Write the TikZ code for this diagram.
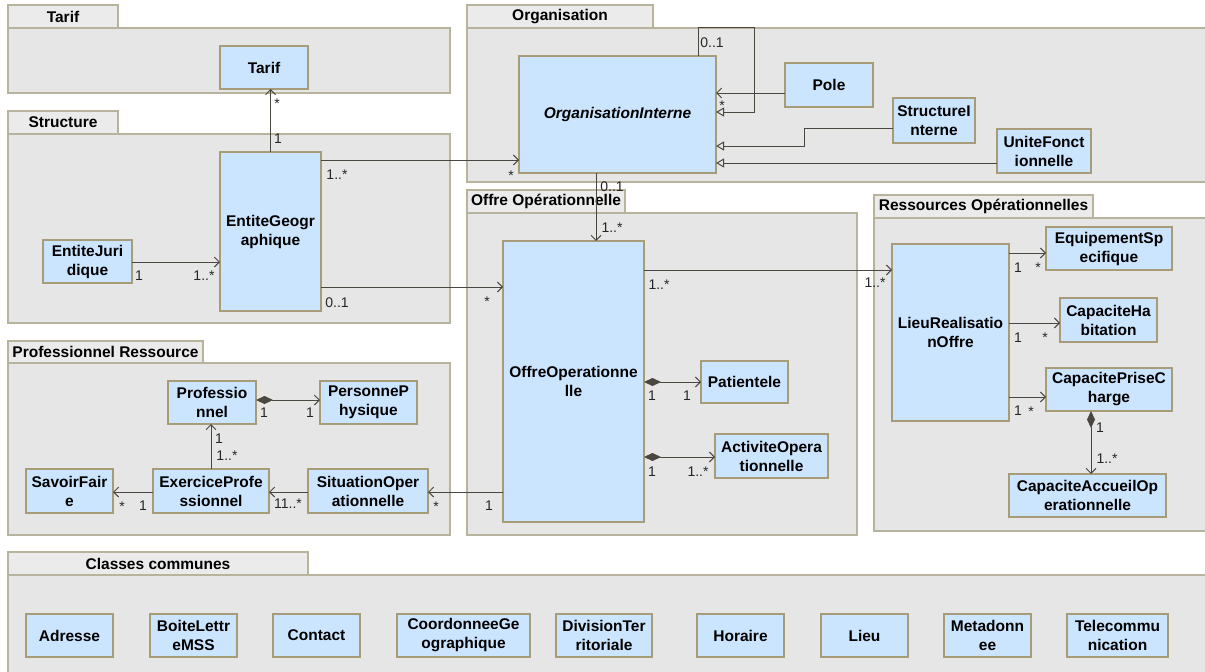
\documentclass[tikz,border=0pt]{standalone}
\usepackage{fontspec}
\setmainfont{Liberation Sans}
\usetikzlibrary{arrows.meta}
\definecolor{pkgfill}{HTML}{E6E6E6}
\definecolor{tabfill}{HTML}{EBEBEB}
\definecolor{pkgline}{HTML}{B8B39D}
\definecolor{clsfill}{HTML}{CCE5FF}
\definecolor{clsline}{HTML}{A89C78}
\definecolor{conn}{HTML}{4A4740}
\newcommand\klass[6]{\node[cls, minimum width={#4-#2}, minimum height={#5-#3}] (#1) at ({(#2+#4)/2},{(#3+#5)/2}) {#6};}
\newcommand\pkgbox[8]{%
  \draw[pkgbody] (#3,#6) rectangle (#7,#8);
  \draw[pkgtab] (#3,#4) rectangle (#5,#6);
  \node[tabtext] (#1) at ({(#3+#5)/2},{(#4+#6)/2}) {#2};}
\newcommand\mlab[4]{\node[mult] (#1) at (#2,#3) {#4};}
\begin{document}
\begin{tikzpicture}[x=1pt,y=-1pt,
  pkgbody/.style={fill=pkgfill,draw=pkgline,line width=1.4pt},
  pkgtab/.style={fill=tabfill,draw=pkgline,line width=1.4pt},
  tabtext/.style={font=\fontsize{15.5}{18}\selectfont\bfseries, inner sep=0},
  cls/.style={draw=clsline, fill=clsfill, line width=1.2pt, inner sep=0, outer sep=0, align=center, font=\fontsize{15.5}{19}\selectfont\bfseries},
  mult/.style={font=\fontsize{14}{16}\selectfont, inner sep=0, anchor=base, text=black!85},
  assoc/.style={draw=conn, line width=1pt, -{Straight Barb[length=5pt,width=10pt]}},
  gen/.style={draw=conn, line width=1pt, -{Triangle[open,length=8pt,width=9pt]}},
  comp/.style={draw=conn, line width=1pt, {Diamond[length=17pt,width=8pt]}-{Straight Barb[length=5pt,width=10pt]}},
]
\useasboundingbox (0,0) rectangle (1205,672);
\fill[white] (0,0) rectangle (1205,672);
% packages
\pkgbox{pTarif}{Tarif}{8}{5}{118}{28}{450}{93}
\pkgbox{pStructure}{Structure}{8}{111}{118}{134}{450}{323}
\pkgbox{pOrg}{Organisation}{467}{5}{653}{28}{1207}{182}
\pkgbox{pOffre}{Offre Opérationnelle}{467}{190}{625}{213}{857}{535}
\pkgbox{pRess}{Ressources Opérationnelles}{874}{195}{1093}{218}{1207}{531}
\pkgbox{pProf}{Professionnel Ressource}{8}{341}{203}{363}{450}{535}
\pkgbox{pCommun}{Classes communes}{8}{552}{308}{575}{1207}{674}
% classes
\klass{tarif}{220}{46}{308}{89}{Tarif}
\klass{eg}{220}{152}{321}{311}{EntiteGeogr\\aphique}
\klass{ej}{43}{240}{132}{283}{EntiteJuri\\dique}
\node[cls, minimum width=197, minimum height=117, font=\fontsize{15.5}{19}\selectfont\bfseries\itshape] (oi) at (617.5,114.5) {OrganisationInterne};
\klass{pole}{785}{63}{873}{107}{Pole}
\klass{si}{893}{98}{975}{143}{StructureI\\nterne}
\klass{uf}{997}{129}{1091}{173}{UniteFonct\\ionnelle}
\klass{oo}{503}{241}{644}{522}{OffreOperationne\\lle}
\klass{pat}{701}{361}{788}{403}{Patientele}
\klass{act}{715}{434}{828}{478}{ActiviteOpera\\tionnelle}
\klass{lro}{892}{244}{1009}{421}{LieuRealisatio\\nOffre}
\klass{equip}{1046}{227}{1172}{270}{EquipementSp\\ecifique}
\klass{chab}{1060}{298}{1157}{342}{CapaciteHa\\bitation}
\klass{cpc}{1046}{368}{1172}{411}{CapacitePriseC\\harge}
\klass{cao}{1009}{474}{1166}{517}{CapaciteAccueilOp\\erationnelle}
\klass{prof}{168}{381}{256}{424}{Professio\\nnel}
\klass{pp}{320}{381}{417}{424}{PersonneP\\hysique}
\klass{sf}{26}{469}{113}{513}{SavoirFair\\e}
\klass{ep}{153}{469}{269}{513}{ExerciceProfe\\ssionnel}
\klass{so}{308}{469}{428}{513}{SituationOper\\ationnelle}
\klass{adr}{26}{614}{113}{657}{Adresse}
\klass{blm}{150}{614}{237}{657}{BoiteLettr\\eMSS}
\klass{cont}{273}{614}{360}{657}{Contact}
\klass{cgeo}{397}{614}{530}{657}{CoordonneeGe\\ographique}
\klass{dter}{556}{614}{652}{657}{DivisionTer\\ritoriale}
\klass{hor}{697}{614}{784}{657}{Horaire}
\klass{lieu}{821}{614}{908}{657}{Lieu}
\klass{meta}{944}{614}{1031}{657}{Metadonn\\ee}
\klass{tel}{1067}{614}{1168}{657}{Telecommu\\nication}
% helper coordinates
\coordinate (yEJ) at (0,262);
\coordinate (yEGa) at (0,160);
\coordinate (yEGb) at (0,287);
\coordinate (xOI) at (596,0);
\coordinate (loopA) at (698,27);
\coordinate (loopB) at (754,27);
\coordinate (yPole) at (0,93);
\coordinate (y112) at (0,112);
\coordinate (ySI) at (0,128);
\coordinate (siK) at (804,146);
\coordinate (yUF) at (0,163);
\coordinate (yLRO) at (0,270);
\coordinate (yPat) at (0,382);
\coordinate (yAct) at (0,457);
\coordinate (ySO) at (0,492);
\coordinate (yEq) at (0,253);
\coordinate (yCH) at (0,323);
\coordinate (yCP) at (0,397);
\coordinate (xCP) at (1091,0);
\coordinate (yPP) at (0,400);
\coordinate (xEP) at (211,0);
% connectors
\draw[assoc] (eg.north) -- (eg.north |- tarif.south);
\draw[assoc] (ej.east |- yEJ) -- (eg.west |- yEJ);
\draw[assoc] (eg.east |- yEGa) -- (oi.west |- yEGa);
\draw[assoc] (eg.east |- yEGb) -- (oo.west |- yEGb);
\draw[assoc] (oi.south -| xOI) -- (oo.north -| xOI);
\draw[assoc] (oi.north -| loopA) -- (loopA) -- (loopB) -- (loopB |- yPole) -- (oi.east |- yPole);
\draw[gen] (pole.west |- yPole) -- (loopB |- yPole) -- (loopB |- y112) -- (oi.east |- y112);
\draw[gen] (si.west |- ySI) -- (siK |- ySI) -- (siK) -- (oi.east |- siK);
\draw[gen] (uf.west |- yUF) -- (oi.east |- yUF);
\draw[assoc] (oo.east |- yLRO) -- (lro.west |- yLRO);
\draw[comp] (oo.east |- yPat) -- (pat.west |- yPat);
\draw[comp] (oo.east |- yAct) -- (act.west |- yAct);
\draw[assoc] (oo.west |- ySO) -- (so.east |- ySO);
\draw[assoc] (lro.east |- yEq) -- (equip.west |- yEq);
\draw[assoc] (lro.east |- yCH) -- (chab.west |- yCH);
\draw[assoc] (lro.east |- yCP) -- (cpc.west |- yCP);
\draw[comp] (cpc.south -| xCP) -- (cao.north -| xCP);
\draw[comp] (prof.east |- yPP) -- (pp.west |- yPP);
\draw[assoc] (ep.north -| xEP) -- (prof.south -| xEP);
\draw[assoc] (ep.west |- ySO) -- (sf.east |- ySO);
\draw[assoc] (so.west |- ySO) -- (ep.east |- ySO);
% multiplicities
\mlab{m1}{277}{108}{*}
\mlab{m2}{278}{143}{1}
\mlab{m3}{337}{179}{1..*}
\mlab{m4}{511}{180}{*}
\mlab{m5}{337}{307}{0..1}
\mlab{m6}{487}{306}{*}
\mlab{m7}{139}{280}{1}
\mlab{m8}{204}{280}{1..*}
\mlab{m9}{712}{47}{0..1}
\mlab{m10}{722}{110}{*}
\mlab{m11}{612}{191}{0..1}
\mlab{m12}{612}{232}{1..*}
\mlab{m13}{659}{289}{1..*}
\mlab{m14}{875}{287}{1..*}
\mlab{m15}{652}{400}{1}
\mlab{m16}{687}{400}{1}
\mlab{m17}{652}{476}{1}
\mlab{m18}{698}{476}{1..*}
\mlab{m19}{489}{510}{1}
\mlab{m20}{436}{511}{*}
\mlab{m21}{1018}{272}{1}
\mlab{m22}{1038}{272}{*}
\mlab{m23}{1018}{342}{1}
\mlab{m24}{1045}{342}{*}
\mlab{m25}{1018}{415}{1}
\mlab{m26}{1031}{416}{*}
\mlab{m27}{1100}{432}{1}
\mlab{m28}{1107}{463}{1..*}
\mlab{m29}{264}{417}{1}
\mlab{m30}{310}{417}{1}
\mlab{m31}{219}{443}{1}
\mlab{m32}{227}{460}{1..*}
\mlab{m33}{122}{511}{*}
\mlab{m34}{143}{510}{1}
\mlab{m35}{288}{508}{11..*}
\end{tikzpicture}
\end{document}
